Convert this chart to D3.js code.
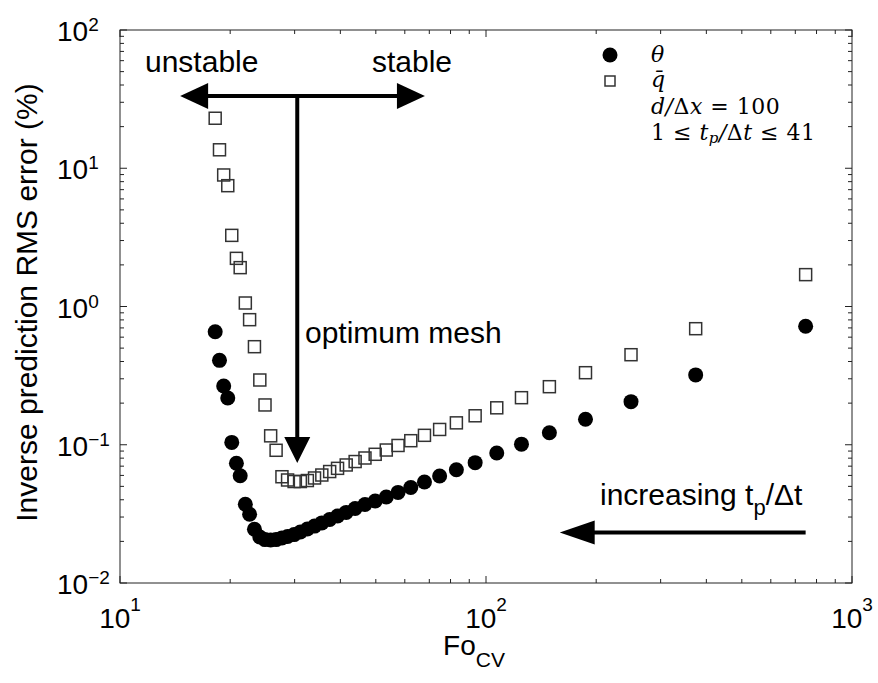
<!DOCTYPE html>
<meta charset="utf-8">
<style>
  body { margin: 0; background: #fff; }
  text { font-family: "Liberation Sans", Arial, sans-serif; fill: #000; }
  .math { font-family: "DejaVu Serif", "Liberation Serif", serif; font-style: italic; }
</style>
<body>
<script src="https://d3js.org/d3.v7.min.js"></script>
<script>

// Fo_CV values (same for both series)
var foValues = [18.2, 18.7, 19.2, 19.7, 20.2, 20.8, 21.3, 22.0, 22.6, 23.3, 24.1, 24.9, 25.8, 26.7,
                27.7, 28.7, 29.9, 31.1, 32.5, 34.0, 35.6, 37.4, 39.3, 41.5, 43.9, 46.7, 49.8, 53.4,
                57.5, 62.3, 67.9, 74.7, 83.0, 93.4, 107, 125, 149, 187, 249, 374, 747];

// theta RMS error (%)
var thetaErr = [0.657, 0.408, 0.266, 0.218, 0.104, 0.0734, 0.0597, 0.0371, 0.0314, 0.0245, 0.0215,
                0.0206, 0.0205, 0.0206, 0.0212, 0.0217, 0.0224, 0.0234, 0.0246, 0.0258, 0.0272,
                0.0288, 0.0305, 0.0324, 0.0346, 0.0370, 0.0392, 0.0419, 0.0452, 0.0491, 0.0538,
                0.0594, 0.0660, 0.0742, 0.0872, 0.101, 0.122, 0.153, 0.205, 0.320, 0.719];

// q-bar RMS error (%)
var qErr = [23.0, 13.6, 8.94, 7.48, 3.27, 2.23, 1.91, 1.06, 0.803, 0.512, 0.294, 0.194, 0.116,
            0.0912, 0.0587, 0.0556, 0.0542, 0.0542, 0.0551, 0.0575, 0.0604, 0.0640, 0.0675,
            0.0714, 0.0756, 0.0802, 0.0853, 0.0916, 0.0988, 0.107, 0.117, 0.129, 0.144, 0.162,
            0.185, 0.219, 0.263, 0.332, 0.448, 0.691, 1.70];

var xTickExp = [1, 2, 3];
var yTickExp = [-2, -1, 0, 1, 2];

var margin = {top: 30, right: 26, bottom: 100, left: 120},
    width = 878 - margin.left - margin.right,
    height = 683 - margin.top - margin.bottom;

var x = d3.scaleLog().domain([10, 1000]).range([0, width]);
var y = d3.scaleLog().domain([0.01, 100]).range([height, 0]);

var svg = d3.select("body").append("svg")
    .attr("width", 878)
    .attr("height", 683)
  .append("g")
    .attr("transform", "translate(" + margin.left + "," + margin.top + ")");

// ticks inside the box on all four sides
var majorLen = 7, minorLen = 4;
function isMajor(v) { return Math.abs(Math.log10(v) - Math.round(Math.log10(v))) < 1e-6; }

var ticks = svg.append("g").attr("stroke", "#222").attr("stroke-width", 1);
x.ticks().forEach(function(v) {
  var len = isMajor(v) ? majorLen : minorLen;
  ticks.append("line").attr("x1", x(v)).attr("x2", x(v)).attr("y1", height).attr("y2", height - len);
  ticks.append("line").attr("x1", x(v)).attr("x2", x(v)).attr("y1", 0).attr("y2", len);
});
y.ticks().forEach(function(v) {
  var len = isMajor(v) ? majorLen : minorLen;
  ticks.append("line").attr("y1", y(v)).attr("y2", y(v)).attr("x1", 0).attr("x2", len);
  ticks.append("line").attr("y1", y(v)).attr("y2", y(v)).attr("x1", width).attr("x2", width - len);
});

svg.append("rect")
    .attr("width", width)
    .attr("height", height)
    .attr("fill", "none")
    .attr("stroke", "#222")
    .attr("stroke-width", 1);

// tick labels 10^n
xTickExp.forEach(function(e) {
  var t = svg.append("text")
      .attr("x", x(Math.pow(10, e)))
      .attr("y", height + 45)
      .attr("text-anchor", "middle")
      .style("font-size", "28px");
  t.append("tspan").text("10");
  t.append("tspan").attr("dy", -17).style("font-size", "19px").text(String(e));
});
yTickExp.forEach(function(e) {
  var t = svg.append("text")
      .attr("x", -63)
      .attr("y", y(Math.pow(10, e)) + 11)
      .style("font-size", "28px");
  t.append("tspan").text("10");
  t.append("tspan").attr("dy", -10).style("font-size", "19px")
      .text(e < 0 ? "\u2212" + (-e) : String(e));
});

// axis titles
svg.append("text")
    .attr("transform", "translate(" + (-83) + "," + (height / 2 - 4) + ") rotate(-90)")
    .attr("text-anchor", "middle")
    .style("font-size", "30px")
    .text("Inverse prediction RMS error (%)");

var xt = svg.append("text")
    .attr("x", width / 2 - 12)
    .attr("y", height + 72)
    .attr("text-anchor", "middle")
    .style("font-size", "28px");
xt.append("tspan").text("Fo");
xt.append("tspan").attr("dy", 12).style("font-size", "21px").text("CV");

// data
svg.selectAll(".theta")
    .data(foValues)
  .enter().append("circle")
    .attr("class", "theta")
    .attr("cx", function(d) { return x(d); })
    .attr("cy", function(d, i) { return y(thetaErr[i]); })
    .attr("r", 7.5)
    .attr("fill", "#000");

var sq = 12;
svg.selectAll(".qbar")
    .data(foValues)
  .enter().append("rect")
    .attr("class", "qbar")
    .attr("x", function(d) { return x(d) - sq / 2; })
    .attr("y", function(d, i) { return y(qErr[i]) - sq / 2; })
    .attr("width", sq)
    .attr("height", sq)
    .attr("fill", "none")
    .attr("stroke", "#333")
    .attr("stroke-width", 1.5);

// arrows
function arrowHead(tipX, tipY, dirX, dirY, len, half) {
  var bx = tipX - dirX * len, by = tipY - dirY * len;
  var px = -dirY * half, py = dirX * half;
  svg.append("path")
      .attr("d", "M" + tipX + "," + tipY + "L" + (bx + px) + "," + (by + py) +
                 "L" + (bx - px) + "," + (by - py) + "Z")
      .attr("fill", "#000");
}
function line(x1, y1, x2, y2) {
  svg.append("line")
      .attr("x1", x1).attr("y1", y1).attr("x2", x2).attr("y2", y2)
      .attr("stroke", "#000").attr("stroke-width", 4);
}

var hy = y(33.3), hl = x(14.6), hr = x(68.1), vx = x(30.5), vTip = y(0.0738);
line(hl + 20, hy, hr - 20, hy);
arrowHead(hl, hy, -1, 0, 28, 13);
arrowHead(hr, hy, 1, 0, 28, 13);
line(vx, hy, vx, vTip - 20);
arrowHead(vx, vTip, 0, 1, 26, 13);

var by = y(0.0232), bl = x(159), br = x(747);
line(br, by, bl + 25, by);
arrowHead(bl, by, -1, 0, 35, 12);

// annotation text
svg.append("text").attr("x", 25).attr("y", 42).style("font-size", "30px").text("unstable");
svg.append("text").attr("x", 252).attr("y", 42).style("font-size", "30px").text("stable");
svg.append("text").attr("x", 185).attr("y", 313).style("font-size", "30px").text("optimum mesh");
var inc = svg.append("text").attr("x", 480).attr("y", 475).style("font-size", "30px");
inc.append("tspan").text("increasing t");
inc.append("tspan").attr("dy", 10).style("font-size", "22px").text("p");
inc.append("tspan").attr("dy", -10).text("/\u0394t");

// legend
var lg = svg.append("g");
lg.append("circle").attr("cx", 490).attr("cy", 25).attr("r", 7.5).attr("fill", "#000");
lg.append("rect").attr("x", 485).attr("y", 46).attr("width", 10).attr("height", 10)
    .attr("fill", "none").attr("stroke", "#333").attr("stroke-width", 1.5);

var lx = 531, fs = "22px";
lg.append("text").attr("class", "math").attr("x", lx).attr("y", 32).style("font-size", fs).text("\u03B8");
lg.append("text").attr("class", "math").attr("x", lx).attr("y", 57).style("font-size", fs).text("q\u0304");
var l3 = lg.append("text").attr("class", "math").attr("x", lx).attr("y", 84)
    .style("font-size", fs).style("letter-spacing", "0.5px");
l3.append("tspan").text("d/");
l3.append("tspan").style("font-style", "normal").text("\u0394");
l3.append("tspan").text("x");
l3.append("tspan").style("font-style", "normal").text(" = 100");
var l4 = lg.append("text").attr("class", "math").attr("x", lx).attr("y", 110)
    .style("font-size", fs).style("letter-spacing", "0.5px");
l4.append("tspan").style("font-style", "normal").text("1 \u2264 ");
l4.append("tspan").text("t");
l4.append("tspan").attr("dy", 3).style("font-size", "15px").text("p");
l4.append("tspan").attr("dy", -3).text("/");
l4.append("tspan").style("font-style", "normal").text("\u0394");
l4.append("tspan").text("t");
l4.append("tspan").style("font-style", "normal").text(" \u2264 41");

</script>
</body>
